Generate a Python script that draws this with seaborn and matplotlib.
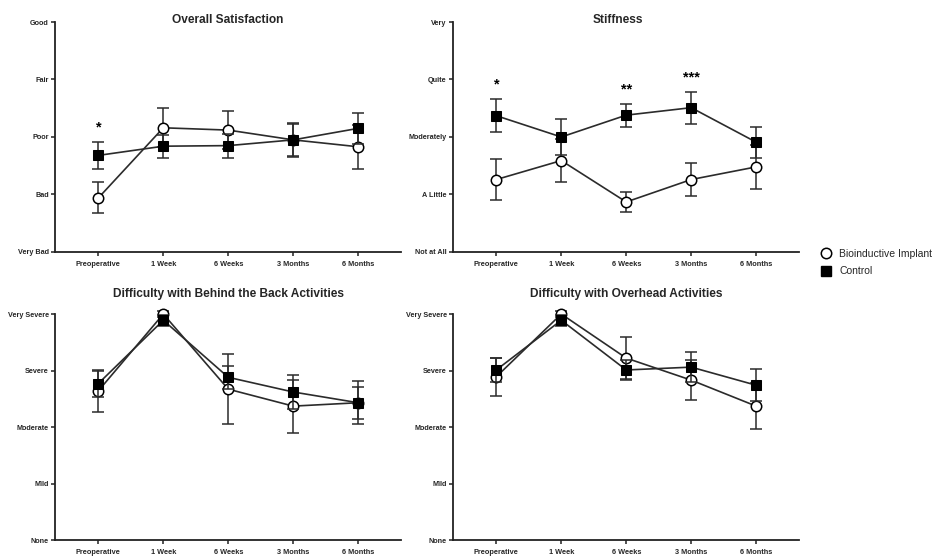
import numpy as np
import pandas as pd
import matplotlib
matplotlib.use("Agg")
import matplotlib.pyplot as plt
from matplotlib.lines import Line2D
import seaborn as sns

timepoints = ["Preoperative", "1 Week", "6 Weeks", "3 Months", "6 Months"]

titles = ["Overall Satisfaction", "Stiffness",
          "Difficulty with Behind the Back Activities", "Difficulty with Overhead Activities"]

ylabels_sat = ["Very Bad", "Bad", "Poor", "Fair", "Good"]
ylabels_stiff = ["Not at All", "A Little", "Moderately", "Quite", "Very"]
ylabels_diff = ["None", "Mild", "Moderate", "Severe", "Very Severe"]

# Overall Satisfaction
sat_implant = [0.94, 2.16, 2.12, 1.95, 1.83]
sat_implant_err = [0.27, 0.34, 0.33, 0.28, 0.38]
sat_control = [1.68, 1.84, 1.85, 1.95, 2.15]
sat_control_err = [0.23, 0.20, 0.21, 0.29, 0.27]
sat_sig = ["*", "", "", "", ""]

# Stiffness
stiff_implant = [1.26, 1.59, 0.87, 1.26, 1.48]
stiff_implant_err = [0.35, 0.38, 0.18, 0.28, 0.38]
stiff_control = [2.37, 2.00, 2.38, 2.51, 1.91]
stiff_control_err = [0.29, 0.31, 0.20, 0.28, 0.27]
stiff_sig = ["*", "", "**", "***", ""]

# Difficulty with Behind the Back Activities
back_implant = [2.64, 4.00, 2.67, 2.37, 2.43]
back_implant_err = [0.37, 0.05, 0.62, 0.47, 0.28]
back_control = [2.77, 3.89, 2.88, 2.62, 2.43]
back_control_err = [0.23, 0.10, 0.20, 0.30, 0.38]
back_sig = ["", "", "", "", ""]

# Difficulty with Overhead Activities
over_implant = [2.89, 4.00, 3.22, 2.83, 2.37]
over_implant_err = [0.34, 0.05, 0.37, 0.35, 0.41]
over_control = [3.01, 3.89, 3.01, 3.06, 2.74]
over_control_err = [0.22, 0.10, 0.18, 0.27, 0.28]
over_sig = ["", "", "", "", ""]

sns.set_theme(style="ticks")
plt.rcParams["font.family"] = ["Liberation Sans", "DejaVu Sans"]

fig = plt.figure(figsize=(9.34, 5.57), dpi=100)

W = 0.3705
rects = [
    (0.0589, 0.5476, W, 0.4129),
    (0.4850, 0.5476, W, 0.4129),
    (0.0589, 0.0305, W, 0.4057),
    (0.4850, 0.0305, W, 0.4057),
]
title_pads = [-1.0, -1.0, 12, 12]
title_xs = [0.5, 0.477, 0.5, 0.5]

panels = [
    (sat_implant, sat_implant_err, sat_control, sat_control_err, sat_sig, ylabels_sat),
    (stiff_implant, stiff_implant_err, stiff_control, stiff_control_err, stiff_sig, ylabels_stiff),
    (back_implant, back_implant_err, back_control, back_control_err, back_sig, ylabels_diff),
    (over_implant, over_implant_err, over_control, over_control_err, over_sig, ylabels_diff),
]

line_col = "#2b2b2b"
x = np.arange(len(timepoints))

for rect, title, tpad, tx, (imp, imp_e, ctl, ctl_e, sig, ylab) in zip(
        rects, titles, title_pads, title_xs, panels):
    ax = fig.add_axes(rect)
    df = pd.DataFrame({
        "x": np.concatenate([x, x]),
        "y": np.concatenate([imp, ctl]),
        "group": ["Bioinductive Implant"] * len(x) + ["Control"] * len(x),
    })
    ax.errorbar(x, imp, yerr=imp_e, fmt="none", ecolor=line_col, elinewidth=1.1,
                capsize=4, capthick=1.1, zorder=2, clip_on=False)
    ax.errorbar(x, ctl, yerr=ctl_e, fmt="none", ecolor=line_col, elinewidth=1.1,
                capsize=4, capthick=1.1, zorder=4, clip_on=False)
    sns.lineplot(data=df[df.group == "Bioinductive Implant"], x="x", y="y", ax=ax,
                 color=line_col, linewidth=1.2, marker="o", markersize=7.5,
                 markerfacecolor="white", markeredgecolor="black", markeredgewidth=1.1,
                 zorder=3, clip_on=False, legend=False)
    sns.lineplot(data=df[df.group == "Control"], x="x", y="y", ax=ax,
                 color=line_col, linewidth=1.2, marker="s", markersize=6.5,
                 markerfacecolor="black", markeredgecolor="black",
                 zorder=5, clip_on=False, legend=False)
    for i, s in enumerate(sig):
        if s:
            top = max(imp[i] + imp_e[i], ctl[i] + ctl_e[i])
            ax.text(x[i], top + 0.25, s, ha="center", va="center", fontsize=10.5,
                    fontweight="bold", color="black")
    ax.set_xlim(-0.667, 4.66)
    ax.set_ylim(0, 4)
    ax.set_yticks(range(5))
    ax.set_yticklabels(ylab, fontsize=5.2, fontweight="bold")
    ax.set_xticks(x)
    ax.set_xticklabels(timepoints, fontsize=5.3, fontweight="bold")
    ax.set_xlabel("")
    ax.set_ylabel("")
    ax.set_title(title, fontsize=8.6, fontweight="bold", pad=tpad, x=tx, y=1.0)
    sns.despine(ax=ax)
    for sp in ["left", "bottom"]:
        ax.spines[sp].set_linewidth(1.3)
        ax.spines[sp].set_color("#222222")
    ax.tick_params(axis="both", length=3, width=1.1, color="#222222", pad=1.5)
    ax.tick_params(axis="x", pad=3.5)
    ax.set_facecolor("white")

handles = [
    Line2D([0], [0], marker="o", linestyle="none", markersize=7.5, markerfacecolor="white",
           markeredgecolor="black", markeredgewidth=1.1),
    Line2D([0], [0], marker="s", linestyle="none", markersize=6.5, markerfacecolor="black",
           markeredgecolor="black"),
]
fig.legend(handles, ["Bioinductive Implant", "Control"], loc="upper left",
           bbox_to_anchor=(0.869, 0.570), frameon=False, fontsize=7.5,
           handlelength=1.0, handletextpad=0.75, labelspacing=0.72)

fig.savefig("out.png", dpi=100, facecolor="white")
